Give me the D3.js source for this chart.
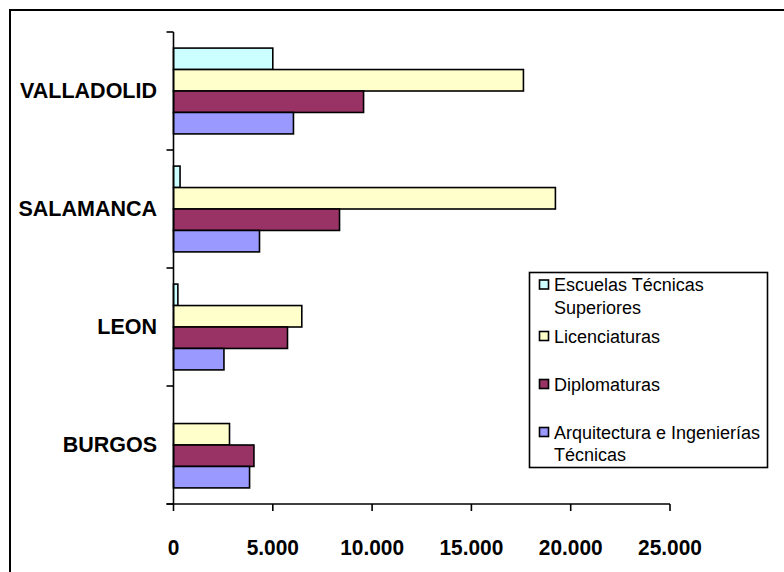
<!DOCTYPE html>
<html><head><meta charset="utf-8">
<script src="https://cdn.jsdelivr.net/npm/d3@7"></script>
<style>html,body{margin:0;padding:0;background:#fff;}svg{display:block;}</style>
</head><body>
<script>
const categories = ["VALLADOLID", "SALAMANCA", "LEON", "BURGOS"];
const seriesNames = ["Escuelas Técnicas Superiores", "Licenciaturas", "Diplomaturas", "Arquitectura e Ingenierías Técnicas"];
const escuelas = [5000, 330, 220, 0];
const licenciaturas = [17620, 19230, 6460, 2820];
const diplomaturas = [9570, 8360, 5740, 4050];
const arquitectura = [6040, 4330, 2540, 3830];
const seriesColors = ["#CCFFFF", "#FFFFCC", "#993366", "#9999FF"];
const xTicks = [0, 5000, 10000, 15000, 20000, 25000];
const xTickLabels = ["0", "5.000", "10.000", "15.000", "20.000", "25.000"];
const legendLines = [["Escuelas Técnicas", "Superiores"], ["Licenciaturas"], ["Diplomaturas"], ["Arquitectura e Ingenierías", "Técnicas"]];

const values = [escuelas, licenciaturas, diplomaturas, arquitectura];
const W = 784, H = 572;
const svg = d3.select("body").append("svg").attr("width", W).attr("height", H);
const FONT = "Liberation Sans, Arial, sans-serif";

// outer frame (cut by the window on right/bottom)
svg.append("rect").attr("x", 10).attr("y", 10).attr("width", W + 20).attr("height", H + 20)
  .attr("fill", "none").attr("stroke", "#000").attr("stroke-width", 2);

const x = d3.scaleLinear().domain([0, 25000]).range([173.5, 670]);
const y = d3.scaleBand().domain(categories).range([32, 504]).padding(0);
const ys = d3.scaleBand().domain(d3.range(4)).range([0, y.bandwidth()]).paddingInner(0).paddingOuter(0.75);

// bars
categories.forEach((c, ci) => {
  const g = svg.append("g").attr("transform", `translate(0,${y(c)})`);
  g.selectAll("rect").data(d3.range(4)).join("rect")
    .attr("x", x(0))
    .attr("y", s => ys(s))
    .attr("width", s => Math.max(0, x(values[s][ci]) - x(0)))
    .attr("height", ys.bandwidth())
    .attr("fill", s => seriesColors[s])
    .attr("stroke", "#000").attr("stroke-width", 1.6)
    .attr("display", s => values[s][ci] > 0 ? null : "none");
});

// y axis
svg.append("line").attr("x1", x(0)).attr("x2", x(0)).attr("y1", 32).attr("y2", 504)
  .attr("stroke", "#000").attr("stroke-width", 1.6);
const yBounds = categories.map(c => y(c)).concat([504]);
svg.selectAll(".ytick").data(yBounds).join("line")
  .attr("x1", x(0) - 7).attr("x2", x(0)).attr("y1", d => d).attr("y2", d => d)
  .attr("stroke", "#000").attr("stroke-width", 1.6);
svg.selectAll(".ylab").data(categories).join("text")
  .attr("x", 157).attr("y", c => y(c) + y.bandwidth() / 2 + 7)
  .attr("text-anchor", "end")
  .attr("font-family", FONT)
  .attr("font-weight", "bold").attr("font-size", 21.5).attr("fill", "#000")
  .text(c => c);

// x axis
svg.append("line").attr("x1", x(0) - 7).attr("x2", x(25000)).attr("y1", 504).attr("y2", 504)
  .attr("stroke", "#000").attr("stroke-width", 1.6);
svg.selectAll(".xtick").data(xTicks).join("line")
  .attr("x1", d => x(d)).attr("x2", d => x(d)).attr("y1", 504).attr("y2", 511)
  .attr("stroke", "#000").attr("stroke-width", 1.6);
svg.selectAll(".xlab").data(xTicks).join("text")
  .attr("transform", d => `translate(${x(d)},555) scale(0.95,1)`)
  .attr("text-anchor", "middle")
  .attr("font-family", FONT)
  .attr("font-weight", "bold").attr("font-size", 22).attr("fill", "#000")
  .text((d, i) => xTickLabels[i]);

// legend
const lg = svg.append("g");
lg.append("rect").attr("x", 529.5).attr("y", 272.5).attr("width", 238).attr("height", 195)
  .attr("fill", "#fff").attr("stroke", "#000").attr("stroke-width", 1.6);
const swatchY = [284.5, 336, 384, 432];
const lineH = 22.5;
seriesNames.forEach((n, i) => {
  lg.append("rect").attr("x", 539.5).attr("y", swatchY[i] - 4.5).attr("width", 9).attr("height", 9)
    .attr("fill", seriesColors[i]).attr("stroke", "#000").attr("stroke-width", 1.6);
  legendLines[i].forEach((t, j) => {
    lg.append("text").attr("x", 554).attr("y", swatchY[i] + 6.5 + j * lineH)
      .attr("font-family", FONT)
      .attr("font-size", 18).attr("fill", "#000")
      .text(t);
  });
});
</script>
</body></html>
